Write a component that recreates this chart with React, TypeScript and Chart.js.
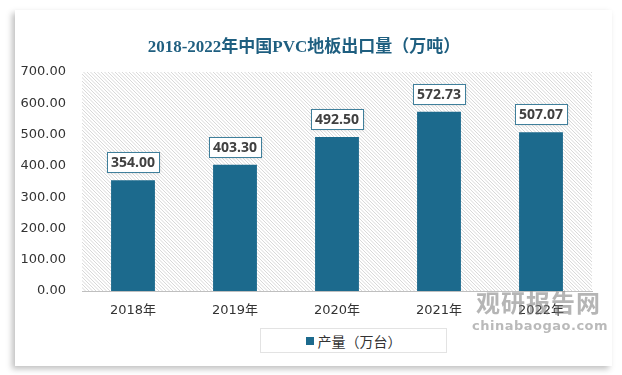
import React, { useEffect, useRef } from "react";
import { Chart, registerables } from "chart.js";

Chart.register(...registerables);

const categories = ["2018年", "2019年", "2020年", "2021年", "2022年"];
const values = [354.0, 403.3, 492.5, 572.73, 507.07];
const seriesName = "产量（万台）";
const titleText = "2018-2022年中国PVC地板出口量（万吨）";

const BAR = "#1c6a8d";

const hatchPlugin = {
  id: "hatch",
  beforeDraw(chart: any) {
    const { ctx, chartArea } = chart;
    const { left, top, right, bottom } = chartArea;
    ctx.save();
    ctx.beginPath();
    ctx.rect(left, top, right - left, bottom - top);
    ctx.clip();
    ctx.fillStyle = "#ffffff";
    ctx.fillRect(left, top, right - left, bottom - top);
    ctx.strokeStyle = "#d4d4d4";
    ctx.lineWidth = 0.9;
    const h = bottom - top;
    for (let x = left - h; x < right + h; x += 3.5) {
      ctx.beginPath();
      ctx.moveTo(x, top);
      ctx.lineTo(x + h, bottom);
      ctx.stroke();
    }
    ctx.restore();
  },
};

const labelPlugin = {
  id: "boxLabels",
  afterDatasetsDraw(chart: any) {
    const { ctx } = chart;
    const meta = chart.getDatasetMeta(0);
    ctx.save();
    ctx.font = "bold 14px 'Open Sans', 'DejaVu Sans', sans-serif";
    ctx.textAlign = "center";
    ctx.textBaseline = "middle";
    meta.data.forEach((bar: any, i: number) => {
      const txt = values[i].toFixed(2);
      const w = Math.round(ctx.measureText(txt).width + 8);
      const hgt = 20;
      const cx = Math.round(bar.x);
      const by = Math.round(bar.y - 8 - hgt);
      ctx.shadowColor = "rgba(0,0,0,0.15)";
      ctx.shadowBlur = 3;
      ctx.shadowOffsetX = 1;
      ctx.shadowOffsetY = 1;
      ctx.fillStyle = "#ffffff";
      ctx.fillRect(cx - w / 2, by, w, hgt);
      ctx.shadowColor = "transparent";
      ctx.strokeStyle = "#3f7f9b";
      ctx.lineWidth = 1;
      ctx.strokeRect(Math.round(cx - w / 2) + 0.5, by + 0.5, w, hgt);
      ctx.fillStyle = "#404040";
      ctx.fillText(txt, cx, by + hgt / 2 + 1);
    });
    ctx.restore();
  },
};

export default function App() {
  const ref = useRef<HTMLCanvasElement>(null);
  useEffect(() => {
    document.body.style.margin = "0";
    const chart = new Chart(ref.current!, {
      type: "bar",
      data: {
        labels: categories,
        datasets: [
          {
            label: seriesName,
            data: values,
            backgroundColor: BAR,
            barPercentage: 0.86,
            categoryPercentage: 0.5,
          },
        ],
      },
      options: {
        animation: false,
        responsive: false,
        devicePixelRatio: 1,
        layout: { padding: { left: 0, top: 72, right: 30, bottom: 0 } },
        plugins: {
          legend: { display: false },
          title: { display: false },
          tooltip: { enabled: false },
        },
        scales: {
          x: {
            grid: { display: false, drawTicks: false },
            border: { display: true, color: "#bfbfbf" },
            ticks: {
              color: "#333333",
              padding: 12,
              font: { size: 13, family: "'DejaVu Sans', 'Noto Sans CJK SC', sans-serif" },
            },
            afterFit(scale: any) {
              scale.height = 84;
            },
          },
          y: {
            min: 0,
            max: 700,
            grid: { display: false, drawTicks: false },
            border: { display: false },
            ticks: {
              stepSize: 100,
              color: "#333333",
              padding: 16,
              font: { size: 13, family: "'DejaVu Sans', Verdana, sans-serif" },
              callback: (v: any) => Number(v).toFixed(2),
            },
            afterFit(scale: any) {
              scale.width = 82;
            },
          },
        },
      },
      plugins: [hatchPlugin, labelPlugin],
    });
    return () => chart.destroy();
  }, []);

  return (
    <div style={{ position: "relative", width: 622, height: 375, background: "#ffffff", overflow: "hidden" }}>
      <div
        style={{
          position: "absolute",
          left: 15,
          top: 10,
          width: 597,
          height: 356,
          background: "#ffffff",
          boxShadow: "-3px 3px 6px rgba(0,0,0,0.25)",
        }}
      />
      <canvas ref={ref} width={622} height={375} style={{ position: "absolute", left: 0, top: 0 }} />
      <div
        style={{
          position: "absolute",
          left: 0,
          width: 608,
          top: 32,
          textAlign: "center",
          fontFamily: "'Liberation Serif', 'Noto Sans CJK SC', serif",
          fontWeight: "bold",
          fontSize: 17,
          color: "#1f5f80",
        }}
      >
        {titleText}
      </div>
      <div
        style={{
          position: "absolute",
          left: 260,
          top: 328,
          width: 187,
          height: 25,
          border: "1px solid #e3e3e3",
          boxSizing: "border-box",
          display: "flex",
          alignItems: "center",
          justifyContent: "center",
          fontFamily: "'Noto Sans CJK SC', sans-serif",
          fontSize: 14,
          color: "#333333",
          background: "#ffffff",
        }}
      >
        <span style={{ display: "inline-block", width: 8, height: 8, background: BAR, marginRight: 4 }} />
        {seriesName}
      </div>
      <div
        style={{
          position: "absolute",
          left: 476,
          top: 288,
          fontFamily: "'Noto Sans CJK SC', sans-serif",
          fontWeight: "bold",
          fontSize: 24,
          letterSpacing: 1,
          color: "rgba(120,120,120,0.55)",
          lineHeight: "28px",
        }}
      >
        观研报告网
      </div>
      <div
        style={{
          position: "absolute",
          left: 472,
          top: 318,
          fontFamily: "'DejaVu Sans', sans-serif",
          fontWeight: "bold",
          fontSize: 13,
          letterSpacing: 0.5,
          color: "rgba(130,130,130,0.55)",
        }}
      >
        chinabaogao.com
      </div>
    </div>
  );
}
